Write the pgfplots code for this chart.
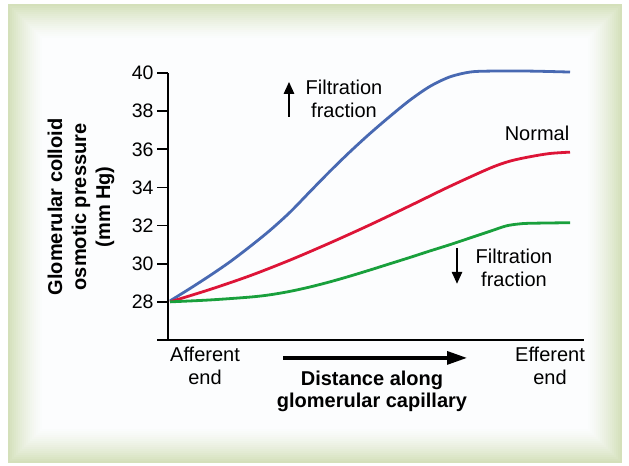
\documentclass[border=0pt]{standalone}
\usepackage{fontspec}
\setmainfont{Liberation Sans}
\usepackage{pgfplots}
\pgfplotsset{compat=1.18}
\usetikzlibrary{arrows.meta}
\definecolor{panelgreen}{RGB}{212,224,186}
\definecolor{inner}{RGB}{252,253,255}
\definecolor{curveblue}{RGB}{72,105,178}
\definecolor{curvered}{RGB}{221,20,55}
\definecolor{curvegreen}{RGB}{25,160,60}
\newcommand\txt{\fontsize{20bp}{23bp}\selectfont}

\begin{document}
\begin{tikzpicture}[x=1bp,y=1bp]
% panel with soft green border
\fill[white] (0,0) rectangle (629,466);
\foreach \i in {0,...,17}{
  \pgfmathtruncatemacro\mix{100*(1-\i/18)^1.4}
  \fill[panelgreen!\mix!inner] (8+2*\i,3+2*\i) rectangle (622-2*\i,462-2*\i);
}
\begin{axis}[
  at={(168bp,126bp)}, anchor=south west,
  x=4bp, y=19.07bp,
  xmin=-0.5, xmax=103.5, ymin=26, ymax=40,
  axis x line=bottom, axis y line=left,
  axis line style={-, line width=1.6bp, black},
  xtick=\empty,
  ytick={26,28,...,40},
  yticklabels={{},28,30,32,34,36,38,40},
  tick align=outside,
  major tick length=11bp,
  tick style={line width=1.6bp, black},
  yticklabel style={font=\fontsize{19.5bp}{23bp}\selectfont},
  clip=false,
]
% increased filtration fraction
\addplot[curveblue, line width=2.8bp, smooth] coordinates {
  (0,28.05) (5,28.7) (10,29.38) (15,30.1) (20,30.9) (25,31.75)
  (30,32.7) (35,33.78) (40,34.85) (45,35.87) (50,36.83) (55,37.73)
  (60,38.58) (65,39.3) (70,39.8) (75,40.05) (80,40.1) (90,40.1) (100,40.05)
};
% normal
\addplot[curvered, line width=2.8bp, smooth] coordinates {
  (0,28.0) (10,28.65) (20,29.37) (30,30.19) (40,31.09) (50,32.04)
  (60,33.04) (70,34.06) (80,35.01) (85,35.38) (90,35.61) (95,35.78)
  (100,35.85)
};
% decreased filtration fraction
\addplot[curvegreen, line width=2.8bp, smooth] coordinates {
  (0,28.0) (10,28.1) (20,28.25) (25,28.37) (30,28.55) (35,28.78)
  (40,29.05) (45,29.35) (50,29.67) (55,30.0) (60,30.33) (65,30.67)
  (70,31.0) (75,31.35) (80,31.7) (84,31.98) (87,32.08) (90,32.12) (100,32.15)
};

\node[align=center, font=\txt] at (axis cs:8.75,24.64) {Afferent\\end};
\node[align=center, font=\txt] at (axis cs:95,24.64) {Efferent\\end};
\draw[line width=3.2bp, -{Triangle[length=20bp,width=13bp]}]
  (axis cs:28.25,25.06) -- (axis cs:74.25,25.06);
\node[align=center, font=\fontsize{20bp}{22bp}\selectfont\bfseries]
  at (axis cs:50.5,23.33) {Distance along\\glomerular capillary};
\node[rotate=90, align=center, font=\fontsize{20bp}{24bp}\selectfont\bfseries]
  at (axis cs:-22.25,32.98) {Glomerular colloid\\osmotic pressure\\(mm Hg)};

\node[align=center, font=\txt] at (axis cs:43.5,38.64) {Filtration\\fraction};
\draw[line width=2.4bp, -{Triangle[length=12bp,width=10bp]}]
  (axis cs:29.75,37.70) -- (axis cs:29.75,39.54);
\node[font=\txt] at (axis cs:91.75,36.86) {Normal};
\node[align=center, font=\txt] at (axis cs:86,29.78) {Filtration\\fraction};
\draw[line width=2.4bp, -{Triangle[length=12bp,width=10bp]}]
  (axis cs:71.75,30.83) -- (axis cs:71.75,28.94);
\end{axis}
\end{tikzpicture}
\end{document}
